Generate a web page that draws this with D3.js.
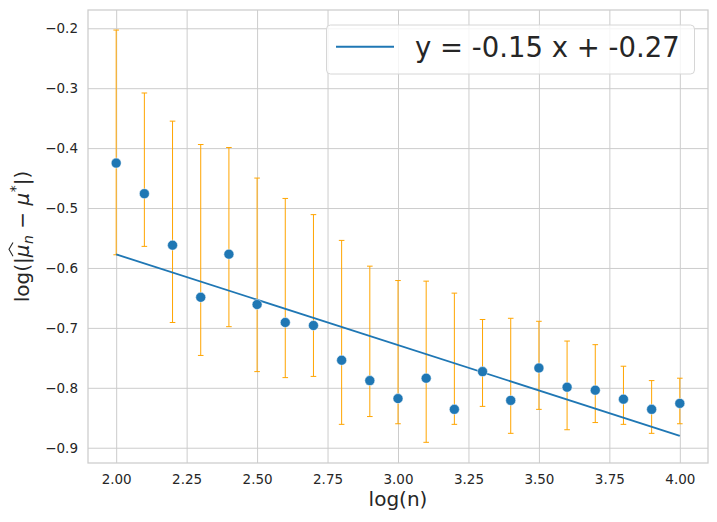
<!DOCTYPE html>
<html><head><meta charset="utf-8">
<script src="https://cdn.jsdelivr.net/npm/d3@7"></script>
<style>
body{margin:0;background:#fff}
svg{display:block;font-family:"DejaVu Sans",sans-serif}
</style>
</head><body>
<svg id="chart" width="717" height="522"></svg>
<script>
// ---- data ----
const logN = [2.0, 2.1, 2.2, 2.3, 2.4, 2.5, 2.6, 2.7, 2.8, 2.9, 3.0, 3.1, 3.2, 3.3, 3.4, 3.5, 3.6, 3.7, 3.8, 3.9, 4.0];
const meanErr = [-0.425, -0.476, -0.562, -0.649, -0.577, -0.661, -0.691, -0.696, -0.754, -0.788, -0.818, -0.784, -0.836, -0.773, -0.821, -0.767, -0.799, -0.804, -0.819, -0.836, -0.826];
const errHigh = [-0.203, -0.308, -0.355, -0.394, -0.399, -0.450, -0.484, -0.511, -0.554, -0.597, -0.621, -0.622, -0.642, -0.686, -0.684, -0.689, -0.722, -0.728, -0.764, -0.788, -0.784];
const errLow  = [-0.578, -0.564, -0.691, -0.746, -0.698, -0.773, -0.783, -0.781, -0.861, -0.848, -0.860, -0.891, -0.861, -0.831, -0.876, -0.836, -0.870, -0.858, -0.861, -0.876, -0.860];
const fitSlope = -0.1514;
const fitIntercept = -0.2745;
const fitRange = [2.0, 4.0];
const fitLabel = "y = -0.15 x + -0.27";
const xTicks = [2.0, 2.25, 2.5, 2.75, 3.0, 3.25, 3.5, 3.75, 4.0];
const yTicks = [-0.9, -0.8, -0.7, -0.6, -0.5, -0.4, -0.3, -0.2];
const xLabel = "log(n)";

// ---- layout ----
const svg = d3.select("#chart");
const L = 88, R = 708, T = 10, B = 463;
const x = d3.scaleLinear().domain([1.9, 4.1]).range([L, R]);
const y = d3.scaleLinear().domain([-0.9255, -0.1695]).range([B, T]);
const grid = "#cccccc", txt = "#262626", blue = "#1f77b4", orange = "#ffa500";

// grid via axes
const gx = svg.append("g").attr("transform", `translate(0,${B})`)
  .call(d3.axisBottom(x).tickValues(xTicks).tickFormat(d3.format(".2f")).tickSize(-(B - T)).tickPadding(11));
const gy = svg.append("g").attr("transform", `translate(${L},0)`)
  .call(d3.axisLeft(y).tickValues(yTicks).tickFormat(d3.format(".1f")).tickSize(-(R - L)).tickPadding(10));
[gx, gy].forEach(g => {
  g.select(".domain").remove();
  g.selectAll(".tick line").attr("stroke", grid).attr("stroke-width", 1);
  g.selectAll(".tick text").attr("fill", txt).attr("font-size", 13.5).attr("font-family", "DejaVu Sans");
});
gx.selectAll(".tick text").attr("dy", "0.71em");

// frame
svg.append("rect").attr("x", L).attr("y", T).attr("width", R - L).attr("height", B - T)
  .attr("fill", "none").attr("stroke", grid).attr("stroke-width", 1.25);

// error bars
const eb = svg.append("g").attr("stroke", orange).attr("stroke-width", 1);
logN.forEach((v, i) => {
  const cx = x(v);
  eb.append("line").attr("x1", cx).attr("x2", cx).attr("y1", y(errLow[i])).attr("y2", y(errHigh[i]));
  eb.append("line").attr("x1", cx - 2.8).attr("x2", cx + 2.8).attr("y1", y(errLow[i])).attr("y2", y(errLow[i]));
  eb.append("line").attr("x1", cx - 2.8).attr("x2", cx + 2.8).attr("y1", y(errHigh[i])).attr("y2", y(errHigh[i]));
});

// fit line
const line = d3.line().x(d => x(d)).y(d => y(fitSlope * d + fitIntercept));
svg.append("path").datum(fitRange).attr("d", line)
  .attr("fill", "none").attr("stroke", blue).attr("stroke-width", 1.8);

// points
svg.append("g").selectAll("circle").data(logN).join("circle")
  .attr("cx", d => x(d)).attr("cy", (d, i) => y(meanErr[i])).attr("r", 5)
  .attr("fill", blue).attr("stroke", "#fff").attr("stroke-width", 0.5);

// legend
const lg = svg.append("g");
lg.append("rect").attr("x", 326.5).attr("y", 25).attr("width", 368).attr("height", 49).attr("rx", 4)
  .attr("fill", "#fff").attr("fill-opacity", 0.8).attr("stroke", "#d6d6d6").attr("stroke-width", 1);
lg.append("line").attr("x1", 336).attr("x2", 394).attr("y1", 46.7).attr("y2", 46.7)
  .attr("stroke", blue).attr("stroke-width", 2);
lg.append("text").attr("x", 415).attr("y", 56.7).attr("font-size", 27.5).attr("fill", txt).text(fitLabel);

// x label
svg.append("text").attr("x", (L + R) / 2).attr("y", 506).attr("text-anchor", "middle")
  .attr("font-size", 20).attr("fill", txt).text(xLabel);

// y label (mathtext-like)
const yl = svg.append("g").attr("transform", `translate(28.5,${(T + B) / 2}) rotate(-90)`).attr("fill", txt);
const pieces = [
  {t: "log(|", fs: 20, dy: 0, it: false},
  {t: "μ", fs: 20, dy: 0, it: true, hat: true},
  {t: "n", fs: 14, dy: 4, it: true},
  {t: " − ", fs: 20, dy: 0, it: false},
  {t: "μ", fs: 20, dy: 0, it: true},
  {t: "*", fs: 14, dy: -9, it: false},
  {t: "|)", fs: 20, dy: 0, it: false}
];
let cur = 0;
const placed = [];
pieces.forEach(p => {
  const el = yl.append("text").attr("x", cur).attr("y", p.dy).attr("font-size", p.fs)
    .attr("font-style", p.it ? "italic" : "normal").attr("xml:space", "preserve").style("white-space", "pre").text(p.t);
  const w = el.node().getComputedTextLength();
  placed.push({el, x0: cur, w, p});
  cur += w + (p.t === "μ" ? 0.5 : 0);
});
const shift = -cur / 2;
placed.forEach(o => {
  o.el.attr("x", o.x0 + shift);
  if (o.p.hat) {
    const a = o.x0 + shift + 1, b = o.x0 + shift + o.w + 2;
    yl.append("path").attr("d", `M${a},-15.5 L${(a + b) / 2},-19.5 L${b},-15.5`)
      .attr("fill", "none").attr("stroke", txt).attr("stroke-width", 1.1);
  }
});
</script>
</body></html>
